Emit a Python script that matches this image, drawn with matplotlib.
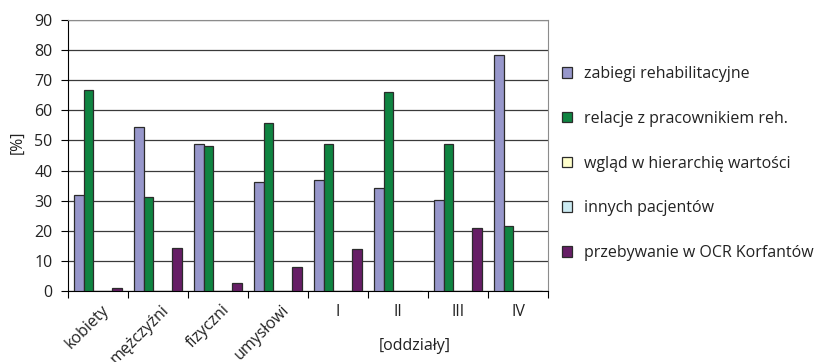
import numpy as np
import matplotlib
matplotlib.use("Agg")
import matplotlib.pyplot as plt
import matplotlib.transforms as mtransforms
from matplotlib.patches import Patch

plt.rcParams['font.family'] = ['Open Sans', 'DejaVu Sans']

categories = ["kobiety", "mężczyźni", "fizyczni", "umysłowi", "I", "II", "III", "IV"]
series_names = [
    "zabiegi rehabilitacyjne",
    "relacje z pracownikiem reh.",
    "wgląd w hierarchię wartości",
    "innych pacjentów",
    "przebywanie w OCR Korfantów",
]
zabiegi = [32.0, 54.3, 48.9, 36.1, 37.0, 34.2, 30.3, 78.3]
relacje = [66.9, 31.2, 48.3, 55.7, 48.9, 66.0, 48.9, 21.7]
wglad = [0, 0, 0, 0, 0, 0, 0, 0]
innych = [0, 0, 0, 0, 0, 0, 0, 0]
przebywanie = [0.9, 14.2, 2.7, 8.1, 13.9, 0, 20.9, 0]
colors = ["#9797CB", "#0F8441", "#FFFFCC", "#CCEBF2", "#661E66"]

series = [zabiegi, relacje, wglad, innych, przebywanie]
fs = 11.5

fig = plt.figure(figsize=(8.22, 3.62), dpi=100)
ax = fig.add_axes([68 / 822, 1 - 291 / 362, 480 / 822, 271 / 362])

x = np.arange(len(categories))
w = 0.16
for i, (vals, col, name) in enumerate(zip(series, colors, series_names)):
    ax.bar(x + (i - 2) * w, vals, w, color=col, edgecolor="#2b2b2b",
           linewidth=0.9, label=name, zorder=3)

ax.set_xlim(-0.5, len(categories) - 0.5)
ax.set_ylim(0, 90)
ax.set_yticks(range(0, 91, 10))
ax.yaxis.grid(True, color="#3a3a3a", linewidth=0.9, zorder=0)
ax.tick_params(axis="y", direction="out", length=5, pad=6, labelsize=fs,
               color="black", labelcolor="#222222")

# group boundaries get the ticks, group centres get the labels
ax.set_xticks(np.arange(-0.5, len(categories), 1.0))
ax.set_xticklabels([])
ax.tick_params(axis="x", which="major", direction="out", length=5, color="black")
ax.set_xticks(x, minor=True)
ax.set_xticklabels(categories, minor=True, fontsize=fs, color="#222222")
ax.tick_params(axis="x", which="minor", length=0, pad=9)
shift = mtransforms.ScaledTranslation(9 / 100, -4 / 100, fig.dpi_scale_trans)
for lab in ax.get_xticklabels(minor=True):
    if lab.get_text() in ("I", "II", "III", "IV"):
        lab.set_rotation(0)
        lab.set_ha("center")
    else:
        lab.set_rotation(45)
        lab.set_rotation_mode("anchor")
        lab.set_ha("right")
        lab.set_va("center")
        lab.set_transform(lab.get_transform() + shift)

for side in ("top", "right"):
    ax.spines[side].set_color("#8c8c8c")
for side in ("left", "bottom"):
    ax.spines[side].set_color("black")

fig.text(18 / 822, 1 - 142 / 362, "[%]", rotation=90, ha="center", va="center",
         fontsize=fs, color="#222222")
fig.text(415 / 822, 1 - 346 / 362, "[oddziały]", ha="center", va="center",
         fontsize=fs, color="#222222")

handles = [Patch(facecolor=c, edgecolor="#2b2b2b", linewidth=0.9) for c in colors]
fig.legend(handles, series_names, loc="upper left",
           bbox_to_anchor=(562 / 822, 1 - 66 / 362), frameon=False,
           fontsize=fs, handlelength=0.62, handleheight=0.62,
           handletextpad=0.75, labelspacing=1.8, borderpad=0,
           borderaxespad=0, labelcolor="#222222")

fig.savefig("out.png", dpi=100)
